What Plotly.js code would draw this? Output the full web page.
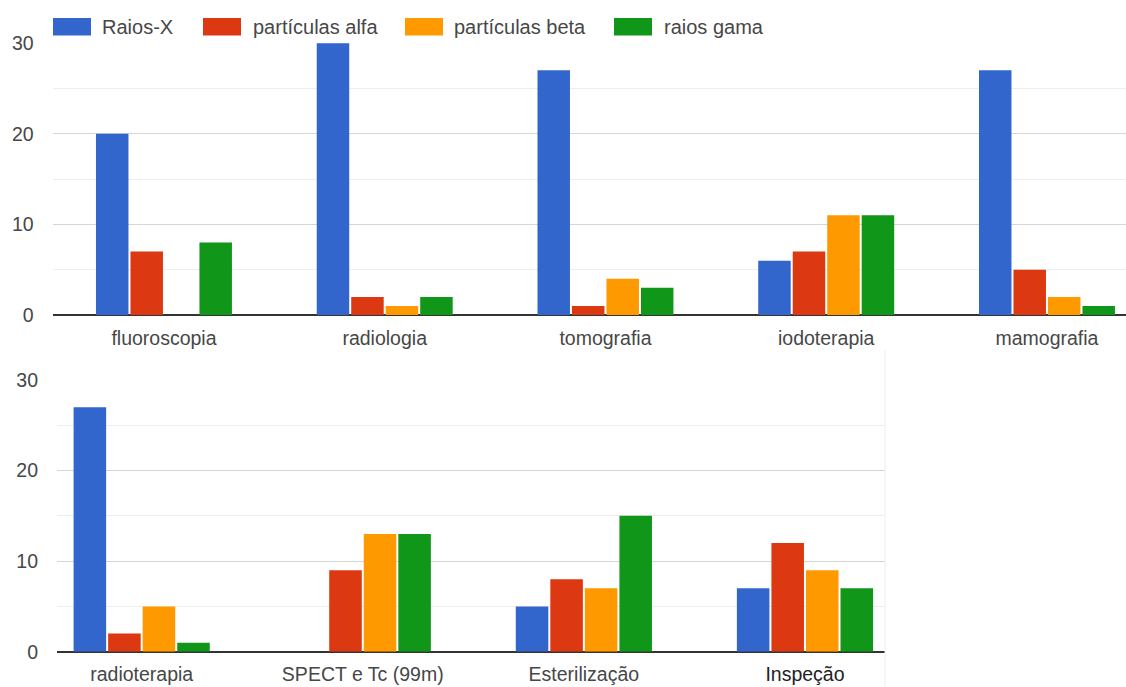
<!DOCTYPE html>
<html>
<head>
<meta charset="utf-8">
<script src="https://cdn.plot.ly/plotly-3.0.1.min.js"></script>
<style>
  html, body { margin: 0; padding: 0; background: #fff; }
  #chart { width: 1126px; height: 687px; }
</style>
</head>
<body>
<div id="chart"></div>
<script>
// Uses of radiation: upper group of applications
const categoriesTop = ['fluoroscopia', 'radiologia', 'tomografia', 'iodoterapia', 'mamografia'];
const raiosXTop   = [20, 30, 27, 6, 27];
const alfaTop     = [7, 2, 1, 7, 5];
const betaTop     = [0, 1, 4, 11, 2];
const gamaTop     = [8, 2, 3, 11, 1];

// Lower group of applications
const categoriesBottom = ['radioterapia', 'SPECT e Tc (99m)', 'Esterilização', 'Inspeção'];
const raiosXBottom = [27, 0, 5, 7];
const alfaBottom   = [2, 9, 8, 12];
const betaBottom   = [5, 13, 7, 9];
const gamaBottom   = [1, 13, 15, 7];

const seriesNames = ['Raios-X', 'partículas alfa', 'partículas beta', 'raios gama'];
const seriesColors = ['#3366cc', '#dc3912', '#ff9900', '#109618'];
const yTicks = [0, 10, 20, 30];

const W = 1126, H = 687;
const px = v => v / W;
const py = v => 1 - v / H;

const topSeries = [raiosXTop, alfaTop, betaTop, gamaTop];
const bottomSeries = [raiosXBottom, alfaBottom, betaBottom, gamaBottom];

const traces = [];
topSeries.forEach((vals, i) => {
  traces.push({
    type: 'bar', x: categoriesTop, y: vals, name: seriesNames[i],
    xaxis: 'x', yaxis: 'y',
    marker: { color: seriesColors[i], line: { width: 0 } },
    hoverinfo: 'x+y+name', showlegend: false
  });
});
bottomSeries.forEach((vals, i) => {
  traces.push({
    type: 'bar', x: categoriesBottom, y: vals, name: seriesNames[i],
    xaxis: 'x2', yaxis: 'y2',
    marker: { color: seriesColors[i], line: { width: 0 } },
    hoverinfo: 'x+y+name', showlegend: false
  });
});

const FONT = 'Liberation Sans, Arial, sans-serif';
const tickFont = { family: FONT, size: 19.5, color: '#474747' };

function yAxis(domain, anchor) {
  return {
    domain: domain, anchor: anchor,
    range: [0, 30.05], tickvals: yTicks, ticktext: yTicks.map(String),
    showgrid: true, gridcolor: '#d6d6d6', gridwidth: 1,
    minor: { dtick: 5, showgrid: true, gridcolor: '#eeeeee', gridwidth: 1 },
    zeroline: true, zerolinecolor: '#333', zerolinewidth: 2,
    showline: false, ticks: '', ticklabelstandoff: 18,
    tickfont: tickFont, fixedrange: true
  };
}

function xAxis(domain, anchor, range, cats, labels) {
  return {
    domain: domain, anchor: anchor, type: 'category', range: range,
    tickvals: cats, ticktext: labels,
    showgrid: false, zeroline: false, showline: false, ticks: '',
    ticklabelstandoff: 9, tickfont: tickFont, fixedrange: true
  };
}

// the last lower label is set a little darker
const bottomLabels = categoriesBottom.map((c, i) =>
  i === categoriesBottom.length - 1 ? '<span style="color:#222">' + c + '</span>' : c);

// Legend drawn as wide swatches with labels above the upper panel
const legendX = [53, 203, 405, 614];
const legendTextX = [100, 251, 452, 662];
const shapes = [];
const annotations = [];
seriesNames.forEach((n, i) => {
  shapes.push({
    type: 'rect', xref: 'paper', yref: 'paper',
    x0: px(legendX[i]), x1: px(legendX[i] + 38), y0: py(35.5), y1: py(18),
    fillcolor: seriesColors[i], line: { width: 0 }
  });
  annotations.push({
    xref: 'paper', yref: 'paper', x: px(legendTextX[i]), y: py(27),
    xanchor: 'left', yanchor: 'middle', showarrow: false, text: n,
    font: { family: FONT, size: 20, color: '#474747' }
  });
});
// right edge of the lower panel
shapes.push({
  type: 'line', xref: 'paper', yref: 'paper',
  x0: px(885), x1: px(885), y0: 0, y1: py(350),
  line: { color: '#eeeeee', width: 1 }
});

const layout = {
  width: W, height: H,
  margin: { l: 0, r: 0, t: 0, b: 0 },
  paper_bgcolor: '#fff', plot_bgcolor: 'rgba(0,0,0,0)',
  barmode: 'group', bargap: 0.375, bargroupgap: 0.058,
  showlegend: false,
  xaxis: xAxis([px(52.7), 1], 'y', [-0.504, 4.358], categoriesTop, categoriesTop),
  yaxis: yAxis([py(315), py(42.7)], 'x'),
  xaxis2: xAxis([px(57), px(885)], 'y2', [-0.383, 3.362], categoriesBottom, bottomLabels),
  yaxis2: yAxis([py(651.7), py(379.5)], 'x2'),
  shapes: shapes, annotations: annotations,
  font: { family: FONT }
};

Plotly.newPlot('chart', traces, layout, { displayModeBar: false, staticPlot: true });
</script>
</body>
</html>
